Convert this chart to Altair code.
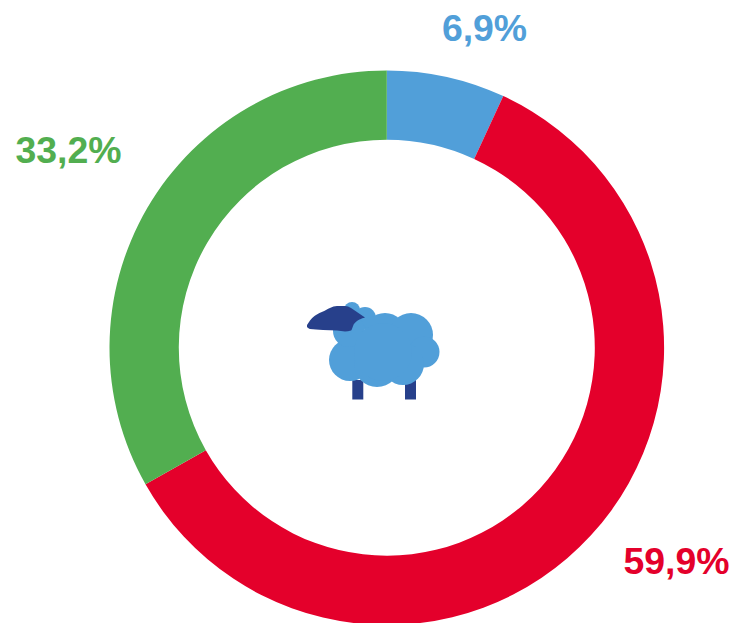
import altair as alt
import pandas as pd

categories = ["a", "b", "c"]
shares = [6.9, 59.9, 33.2]
labels = ["6,9%", "59,9%", "33,2%"]
colors = ["#519FD9", "#E4002B", "#52AE50"]
label_x = [484.5, 676.5, 68.5]
label_y = [41, 574, 163]

body_x = [352, 365, 385, 411, 424, 350, 377, 403, 349, 383]
body_y = [310, 318, 334, 335, 352, 360, 364, 364, 331, 352]
body_r = [8, 11, 21, 22, 15.5, 21, 23, 21, 16, 29]

head_x = [307, 310, 316, 323, 337, 345, 351, 354, 365]
head_top = [325, 320.5, 315, 311.5, 306, 306, 308, 310, 317.5]
head_bot = [327, 329, 329.5, 330, 330.5, 331.5, 330.5, 324, 317.5]

leg_x1 = [352.3, 405]
leg_x2 = [363.3, 416]
leg_y1 = [380, 380]
leg_y2 = [399.5, 399.5]

W, H = 722, 615
xs = alt.Scale(domain=[8, 8 + W], range=[0, W])
ys = alt.Scale(domain=[8, 8 + H], range=[0, H])

ring_df = pd.DataFrame({"cat": categories, "share": shares, "ord": range(3)})
ring = alt.Chart(ring_df).mark_arc(innerRadius=208, outerRadius=277.3).encode(
    theta=alt.Theta("share:Q", stack=True),
    order=alt.Order("ord:Q"),
    color=alt.Color("cat:N", scale=alt.Scale(domain=categories, range=colors), legend=None),
    x=alt.value(378.8),
    y=alt.value(339.7),
)

text_df = pd.DataFrame({"x": label_x, "y": label_y, "t": labels, "cat": categories})
text = alt.Chart(text_df).mark_text(
    font="Liberation Sans", fontSize=37.4, fontWeight="bold", baseline="alphabetic", align="center"
).encode(
    x=alt.X("x:Q", scale=xs, axis=None),
    y=alt.Y("y:Q", scale=ys, axis=None),
    text="t:N",
    color=alt.Color("cat:N", scale=alt.Scale(domain=categories, range=colors), legend=None),
)

leg_df = pd.DataFrame({"x": leg_x1, "x2": leg_x2, "y": leg_y1, "y2": leg_y2})
legs = alt.Chart(leg_df).mark_rect(color="#27408B").encode(
    x=alt.X("x:Q", scale=xs, axis=None), x2="x2:Q",
    y=alt.Y("y:Q", scale=ys, axis=None), y2="y2:Q",
)

body_df = pd.DataFrame({"x": body_x, "y": body_y, "s": [4 * r * r for r in body_r]})
body = alt.Chart(body_df).mark_circle(color="#519FD9", opacity=1).encode(
    x=alt.X("x:Q", scale=xs, axis=None),
    y=alt.Y("y:Q", scale=ys, axis=None),
    size=alt.Size("s:Q", scale=None, legend=None),
)

head_df = pd.DataFrame({"x": head_x, "y": head_top, "y2": head_bot})
head = alt.Chart(head_df).mark_area(color="#27408B", interpolate="monotone", opacity=1).encode(
    x=alt.X("x:Q", scale=xs, axis=None),
    y=alt.Y("y:Q", scale=ys, axis=None),
    y2="y2:Q",
)

chart = alt.layer(ring, legs, body, head, text).resolve_scale(color="independent").properties(
    width=W, height=H, padding=0, autosize=alt.AutoSizeParams(type="none")
).configure_view(stroke=None)

chart.save("out.html", embed_options={"renderer": "svg", "actions": False})
